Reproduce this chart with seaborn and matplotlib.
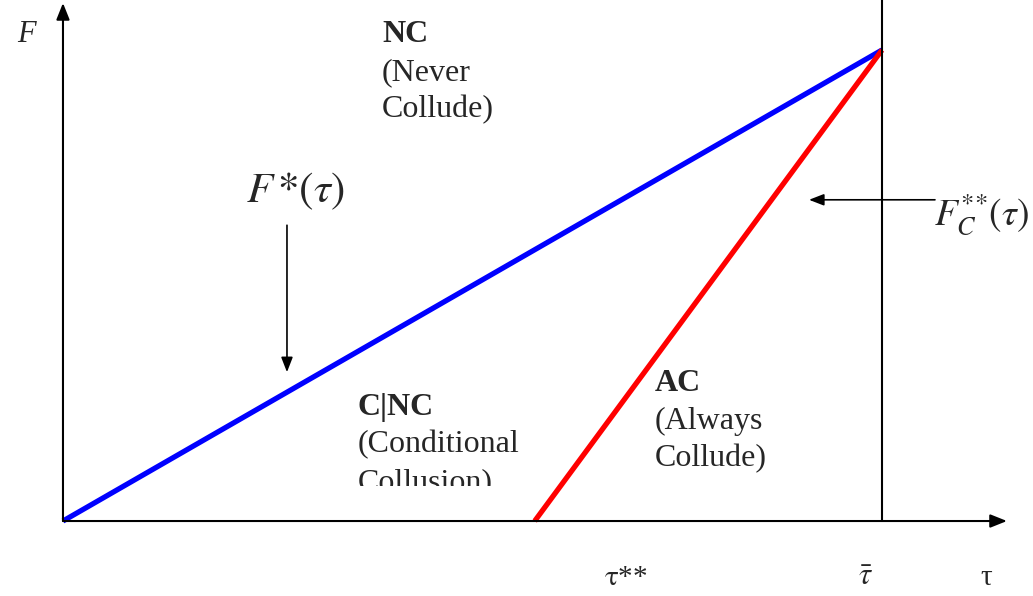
import numpy as np
import pandas as pd
import matplotlib
matplotlib.use("Agg")
import matplotlib.pyplot as plt
import matplotlib.patches as mpatches
import seaborn as sns

# values (tau normalised so that tau_bar = 1)
tau_ss = 0.576      # tau**
tau_bar = 1.0       # upper bound of tau
f_top = 1.0         # F at tau_bar

tau_fstar = [0.0, tau_bar]
f_fstar = [0.0, f_top]
tau_fc = [tau_ss, tau_bar]
f_fc = [0.0, f_top]

blue_df = pd.DataFrame({"tau": tau_fstar, "F": f_fstar})
red_df = pd.DataFrame({"tau": tau_fc, "F": f_fc})

sns.set_style("white")
plt.rcParams["font.family"] = ["Liberation Serif", "DejaVu Serif"]
plt.rcParams["mathtext.fontset"] = "stix"

fig = plt.figure(figsize=(10.33, 5.96), dpi=100)
ax = fig.add_axes([0, 0, 1, 1])
ax.set_xlim(-0.0769, 1.1844)
ax.set_ylim(-0.1592, 1.1062)
ax.axis("off")

# curves
sns.lineplot(data=blue_df, x="tau", y="F", color="#0000ff", lw=3.8, ax=ax,
             solid_capstyle="butt")
sns.lineplot(data=red_df, x="tau", y="F", color="#ff0000", lw=3.8, ax=ax,
             solid_capstyle="butt")

# axes with arrows
arrow_kw = dict(arrowstyle="-|>,head_length=1.0,head_width=0.4", color="black",
                lw=1.5, shrinkA=0, shrinkB=0)
ax.annotate("", xy=(0, 1.0998), xytext=(0, 0), arrowprops=arrow_kw)
ax.annotate("", xy=(1.1526, 0), xytext=(0, 0), arrowprops=arrow_kw)
ax.plot([tau_bar, tau_bar], [0, 1.11], color="black", lw=1.5)

ax.text(-0.045, 1.017, "F", fontsize=22, style="italic", ha="center", va="baseline")

# region labels
fs = 23
ax.text(0.3895, 1.017, "NC", fontsize=fs, weight="bold", va="baseline")
ax.text(0.3895, 0.935, "(Never", fontsize=fs, va="baseline")
ax.text(0.3895, 0.858, "Collude)", fontsize=fs, va="baseline")

ax.text(0.3602, 0.225, "C|NC", fontsize=fs, weight="bold", va="baseline")
ax.text(0.3602, 0.146, "(Conditional", fontsize=fs, va="baseline")
t = ax.text(0.3602, 0.066, "Collusion)", fontsize=fs, va="baseline", clip_on=True)
clip = mpatches.Rectangle((-1, 0.074), 5, 5, transform=ax.transData)
t.set_clip_path(clip)

ax.text(0.7228, 0.275, "AC", fontsize=fs, weight="bold", va="baseline")
ax.text(0.7228, 0.195, "(Always", fontsize=fs, va="baseline")
ax.text(0.7228, 0.117, "Collude)", fontsize=fs, va="baseline")

# curve labels with pointers
ax.text(0.2845, 0.70, r"$F\,{*}(\tau)$", fontsize=31, va="center", ha="center")
small_arrow = dict(arrowstyle="-|>,head_length=0.9,head_width=0.35", color="black",
                   lw=1.2, shrinkA=0, shrinkB=0)
ax.annotate("", xy=(0.2735, 0.316), xytext=(0.2735, 0.628), arrowprops=small_arrow)

ax.text(1.063, 0.65, r"$F_C^{{*}{*}}(\tau)$", fontsize=27, va="center", ha="left")
ax.annotate("", xy=(0.9109, 0.682), xytext=(1.0647, 0.682), arrowprops=small_arrow)

# tick-like labels under the axis
ax.text(tau_ss + 0.111, -0.135, r"$\mathrm{\tau}$**", fontsize=21, ha="center",
        va="baseline")
ax.text(tau_bar - 0.02, -0.135, r"$\bar{\tau}$", fontsize=22, ha="center",
        va="baseline")
ax.text(1.127, -0.135, "τ", fontsize=21, ha="center", va="baseline")

fig.savefig("out.png", dpi=100)
